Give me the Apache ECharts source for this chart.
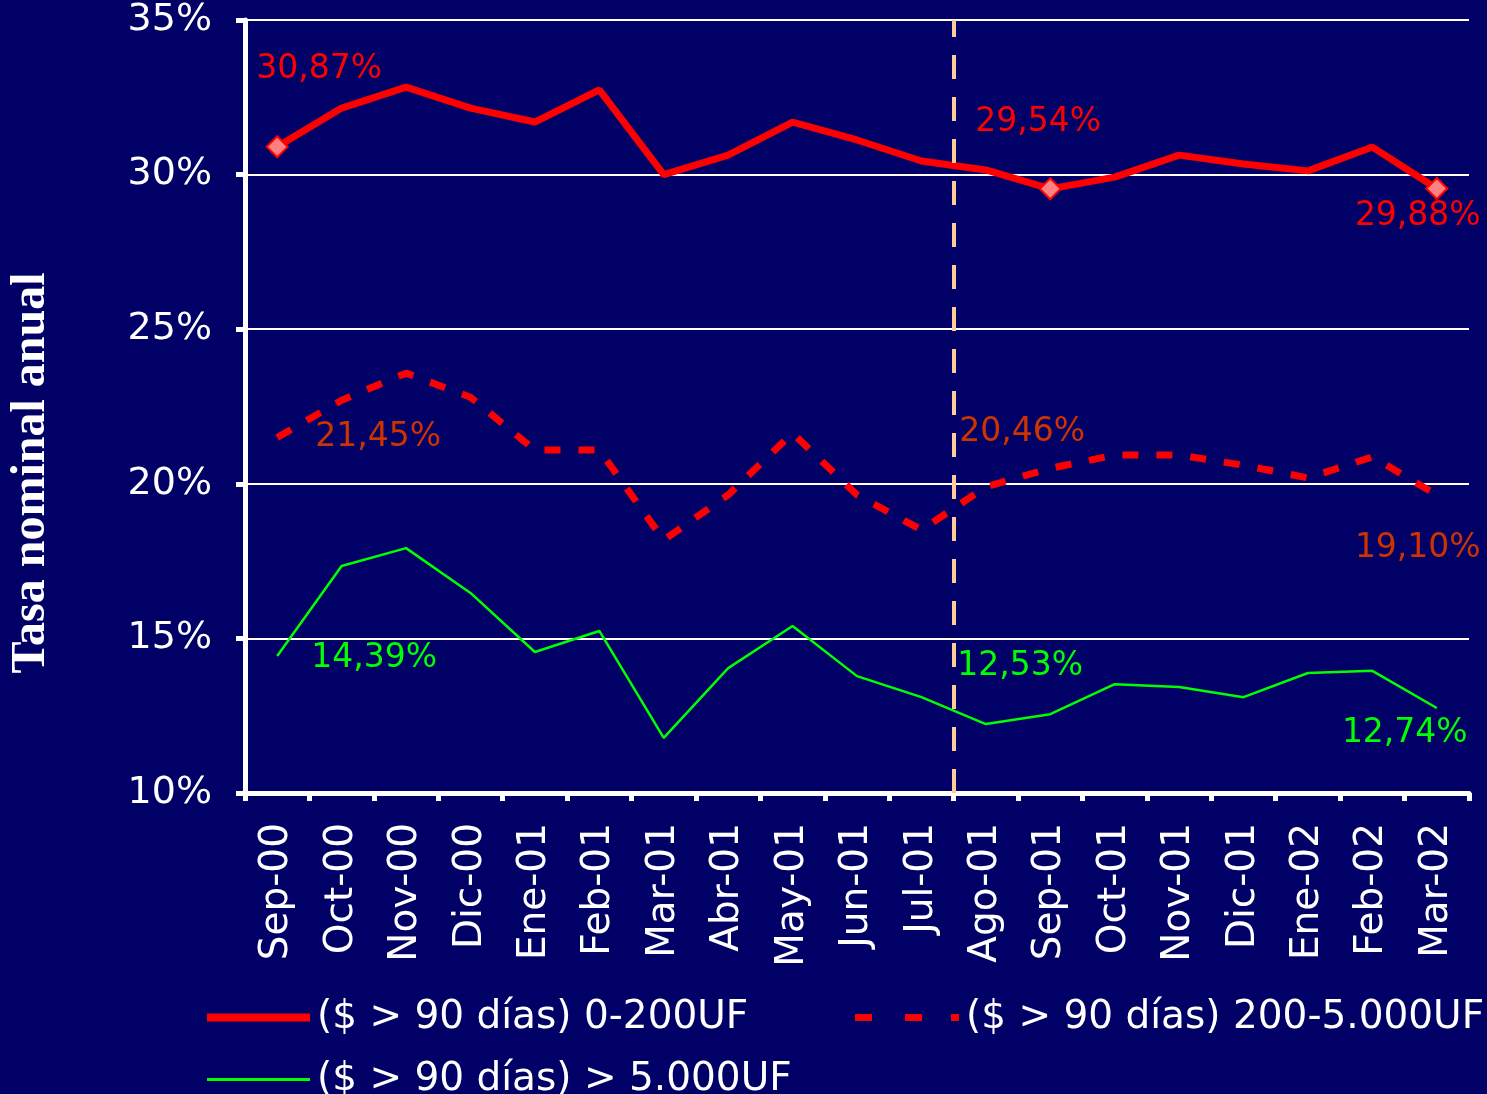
<!DOCTYPE html>
<html>
<head>
<meta charset="utf-8">
<script src="https://cdn.jsdelivr.net/npm/echarts@6/dist/echarts.min.js"></script>
<style>
  html, body { margin: 0; padding: 0; background: #000066; }
  #chart { width: 1487px; height: 1094px; }
</style>
</head>
<body>
<div id="chart"></div>
<script>
// meses del eje x
const months = ["Sep-00", "Oct-00", "Nov-00", "Dic-00", "Ene-01", "Feb-01", "Mar-01", "Abr-01", "May-01", "Jun-01",
  "Jul-01", "Ago-01", "Sep-01", "Oct-01", "Nov-01", "Dic-01", "Ene-02", "Feb-02", "Mar-02"];

// tasas (%)
const tasa0a200 = [30.9, 32.15, 32.83, 32.15, 31.7, 32.74, 30.0, 30.63, 31.7, 31.12,
  30.44, 30.15, 29.54, 29.92, 30.63, 30.34, 30.12, 30.89, 29.55];
const tasa200a5000 = [21.5, 22.7, 23.58, 22.8, 21.09, 21.09, 18.18, 19.64, 21.64, 19.64,
  18.51, 19.9, 20.5, 20.93, 20.93, 20.6, 20.19, 20.87, 19.64];
const tasaSobre5000 = [14.43, 17.34, 17.92, 16.47, 14.56, 15.24, 11.78, 14.04, 15.4, 13.78,
  13.1, 12.23, 12.55, 13.52, 13.43, 13.1, 13.88, 13.95, 12.75];

const seriesNames = ["($ > 90 días) 0-200UF", "($ > 90 días) 200-5.000UF", "($ > 90 días) > 5.000UF"];

// puntos con etiqueta: Sep-00, Sep-01, Mar-02
const labelMonths = ["Sep-00", "Sep-01", "Mar-02"];
const labels0a200 = ["30,87%", "29,54%", "29,88%"];
const labels200a5000 = ["21,45%", "20,46%", "19,10%"];
const labelsSobre5000 = ["14,39%", "12,53%", "12,74%"];

// eje y
const yMin = 10, yMax = 35, yStep = 5;
// linea vertical despues de este mes
const cutAfter = "Jul-01";

(function () {
  const myChart = echarts.init(document.getElementById("chart"));
  const font = "DejaVu Sans";
  const labelIdx = labelMonths.map((m) => months.indexOf(m));

  // arma los datos con etiquetas en los puntos marcados
  function buildData(values, texts, color, offsets, diamond) {
    return values.map((v, i) => {
      const k = labelIdx.indexOf(i);
      if (k < 0) return v;
      return {
        value: v,
        symbol: diamond ? "diamond" : "circle",
        symbolSize: diamond ? 21 : 1,
        itemStyle: diamond
          ? { color: "#FF8080", borderColor: "#FF0000", borderWidth: 2 }
          : { color: "rgba(0,0,0,0)" },
        label: {
          show: true,
          position: "inside",
          formatter: texts[k],
          color: color,
          fontFamily: font,
          fontSize: 33,
          offset: offsets[k],
        },
      };
    });
  }

  const cutPos = months.indexOf(cutAfter) + 1;

  // iconos de la leyenda
  const legendText = { color: "#fff", fontFamily: font, fontSize: 39, padding: [0, 0, 0, 2] };
  const dashIcon = "path://M0,0h17v7h-17z M50,0h17v7h-17z M96,0h8v7h-8z";

  const option = {
    backgroundColor: "#000066",
    animation: false,
    grid: { left: 245, right: 18, top: 20, bottom: 301, containLabel: false },
    xAxis: [
      {
        type: "category",
        data: months,
        boundaryGap: true,
        axisLine: { lineStyle: { color: "#fff", width: 5 } },
        axisTick: { show: true, interval: 0, length: 8, lineStyle: { color: "#fff", width: 5 } },
        axisLabel: {
          interval: 0,
          rotate: 90,
          color: "#fff",
          fontFamily: font,
          fontSize: 39,
          margin: 30,
        },
        splitLine: { show: false },
      },
      { type: "value", min: 0, max: months.length, show: false },
    ],
    yAxis: {
      type: "value",
      min: yMin,
      max: yMax,
      interval: yStep,
      axisLine: { show: true, lineStyle: { color: "#fff", width: 5 } },
      axisTick: { show: true, length: 9, lineStyle: { color: "#fff", width: 5 } },
      axisLabel: {
        color: "#fff",
        fontFamily: font,
        fontSize: 38,
        margin: 33,
        formatter: "{value}%",
      },
      splitLine: { lineStyle: { color: "#fff", width: 2 } },
    },
    legend: [
      {
        data: [{ name: seriesNames[0], icon: "rect", itemStyle: { color: "#FF0000" } }],
        left: 202,
        top: 993,
        itemWidth: 103,
        itemHeight: 8,
        textStyle: legendText,
      },
      {
        data: [{ name: seriesNames[1], icon: dashIcon, itemStyle: { color: "#FF0000" } }],
        left: 850,
        top: 993,
        itemWidth: 104,
        itemHeight: 7,
        textStyle: legendText,
      },
      {
        data: [{ name: seriesNames[2], icon: "rect", itemStyle: { color: "#00FF00" } }],
        left: 202,
        top: 1055,
        itemWidth: 103,
        itemHeight: 3,
        textStyle: legendText,
      },
    ],
    graphic: [
      {
        type: "text",
        x: 32,
        y: 473,
        rotation: Math.PI / 2,
        style: {
          text: "Tasa nominal anual",
          fill: "#fff",
          font: "bold 48px 'Liberation Serif'",
          textAlign: "center",
          textVerticalAlign: "middle",
        },
      },
    ],
    series: [
      {
        name: seriesNames[0],
        type: "line",
        symbol: "none",
        color: "#FF0000",
        lineStyle: { color: "#FF0000", width: 7 },
        data: buildData(tasa0a200, labels0a200, "#FF0000", [[42, -77], [-12, -66], [-19, 28]], true),
        z: 4,
      },
      {
        name: seriesNames[1],
        type: "line",
        symbol: "none",
        color: "#FF0000",
        lineStyle: { color: "#FF0000", width: 7, type: [16, 18] },
        data: buildData(tasa200a5000, labels200a5000, "#CC3300", [[101, 0], [-28, -36], [-19, 53]], false),
        z: 3,
      },
      {
        name: seriesNames[2],
        type: "line",
        symbol: "none",
        color: "#00FF00",
        lineStyle: { color: "#00FF00", width: 2.5 },
        data: buildData(tasaSobre5000, labelsSobre5000, "#00FF00", [[97, 2], [-30, -48], [-32, 25]], false),
        z: 3,
      },
      {
        // linea vertical de corte
        name: "corte",
        type: "line",
        xAxisIndex: 1,
        data: [],
        markLine: {
          silent: true,
          symbol: ["none", "none"],
          label: { show: false },
          lineStyle: { color: "#FFCC99", width: 4, type: [24, 18] },
          data: [{ xAxis: cutPos }],
        },
        z: 5,
      },
    ],
  };

  myChart.setOption(option);
})();
</script>
</body>
</html>
